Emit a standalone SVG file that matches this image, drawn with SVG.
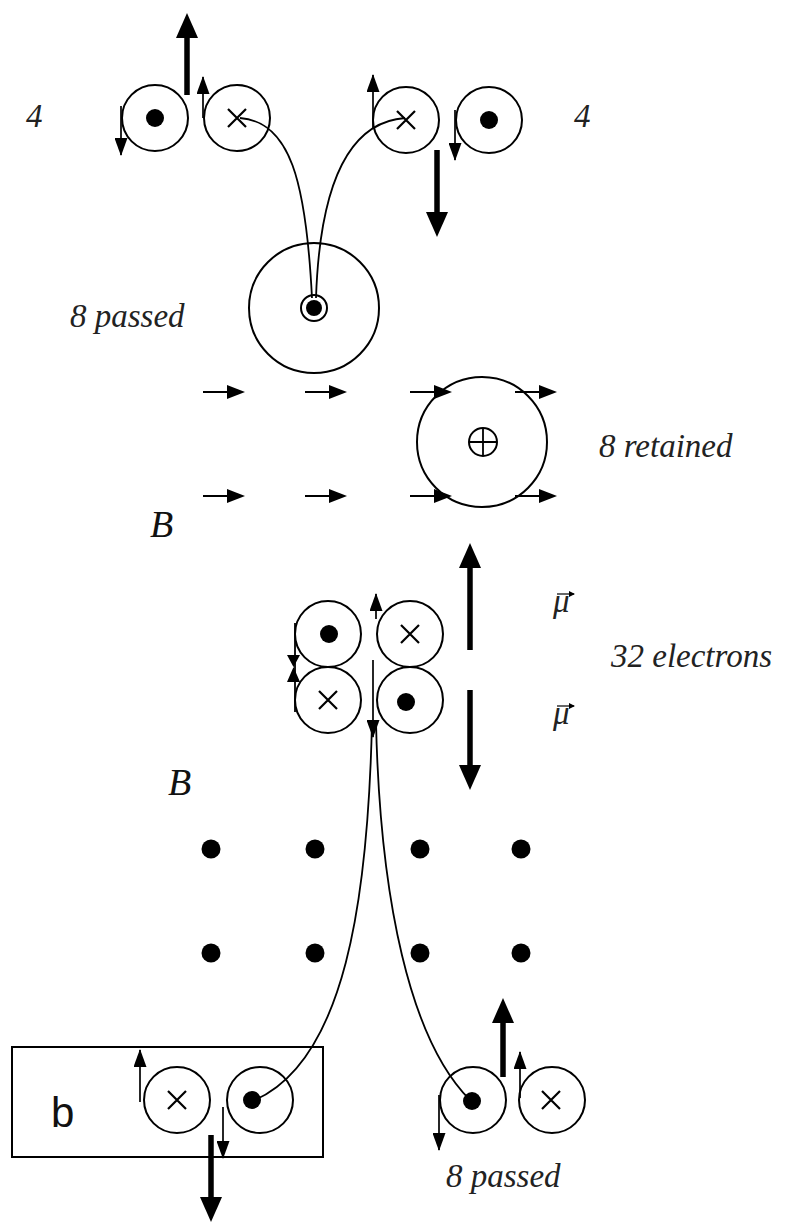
<svg xmlns="http://www.w3.org/2000/svg" width="793" height="1226" viewBox="0 0 793 1226">
<style>
.c{fill:none;stroke:#000;stroke-width:2}
.x{stroke:#000;stroke-width:2.2;fill:none}
.d{fill:#000}
.sa{stroke:#000;stroke-width:1.7;fill:none;marker-end:url(#sm)}
.ba{stroke:#000;stroke-width:5.5;fill:none;marker-end:url(#big)}
.ha{stroke:#000;stroke-width:2;fill:none;marker-end:url(#hm)}
.tr{stroke:#000;stroke-width:1.8;fill:none}
.t{font-family:"Liberation Serif",serif;font-style:italic;font-size:33px;fill:#222}
.B{font-family:"Liberation Serif",serif;font-style:italic;font-size:38px;fill:#111}
</style>
<defs>
<marker id="sm" viewBox="0 0 18 13" refX="17" refY="6.5" markerWidth="18" markerHeight="13" markerUnits="userSpaceOnUse" orient="auto"><path d="M0,0 L18,6.5 L0,13 z" fill="#000"/></marker>
<marker id="big" viewBox="0 0 25 22" refX="12" refY="11" markerWidth="25" markerHeight="22" markerUnits="userSpaceOnUse" orient="auto"><path d="M0,0 L25,11 L0,22 z" fill="#000"/></marker>
<marker id="hm" viewBox="0 0 18 14" refX="9" refY="7" markerWidth="18" markerHeight="14" markerUnits="userSpaceOnUse" orient="auto"><path d="M0,0 L18,7 L0,14 z" fill="#000"/></marker>
</defs>
<rect width="793" height="1226" fill="#fff"/>

<g id="top-left-pair">
<circle class="c" cx="155" cy="118" r="33"/><circle class="d" cx="155" cy="118" r="9"/>
<circle class="c" cx="237" cy="118" r="33"/><path class="x" d="M228,109 L246,127 M246,109 L228,127"/>
<line class="sa" x1="121" y1="106" x2="121" y2="155"/>
<line class="sa" x1="203" y1="118" x2="203" y2="77"/>
<line class="ba" x1="187" y1="95" x2="187" y2="26"/>
</g>
<g id="top-right-pair">
<circle class="c" cx="406" cy="120" r="33"/><path class="x" d="M397,111 L415,129 M415,111 L397,129"/>
<circle class="c" cx="489" cy="120" r="33"/><circle class="d" cx="489" cy="120" r="9"/>
<line class="sa" x1="373" y1="128" x2="373" y2="75"/>
<line class="sa" x1="455" y1="110" x2="455" y2="160"/>
<line class="ba" x1="437" y1="150" x2="437" y2="224"/>
</g>
<g id="passed-atom">
<circle class="c" cx="314" cy="308" r="65"/>
<circle class="c" cx="314" cy="308" r="13"/><circle class="d" cx="314" cy="308" r="8"/>
</g>
<g id="retained-atom">
<circle class="c" cx="482" cy="442" r="65"/>
<circle class="c" cx="483" cy="442" r="14"/><path class="x" d="M469,442 L497,442 M483,428 L483,456" style="stroke-width:1.8"/>
</g>
<g id="field-arrows">
<line class="ha" x1="203" y1="392" x2="236" y2="392"/>
<line class="ha" x1="305" y1="392" x2="338" y2="392"/>
<line class="ha" x1="410" y1="392" x2="443" y2="392"/>
<line class="ha" x1="515" y1="392" x2="548" y2="392"/>
<line class="ha" x1="203" y1="496" x2="236" y2="496"/>
<line class="ha" x1="305" y1="496" x2="338" y2="496"/>
<line class="ha" x1="410" y1="496" x2="443" y2="496"/>
<line class="ha" x1="515" y1="496" x2="548" y2="496"/>
</g>
<g id="electrons-32">
<circle class="c" cx="328" cy="634" r="33"/><circle class="d" cx="329" cy="634" r="9"/>
<circle class="c" cx="410" cy="634" r="33"/><path class="x" d="M401,625 L419,643 M419,625 L401,643"/>
<circle class="c" cx="328" cy="700" r="33"/><path class="x" d="M319,691 L337,709 M337,691 L319,709"/>
<circle class="c" cx="410" cy="700" r="33"/><circle class="d" cx="406" cy="702" r="9"/>
<line class="tr" x1="295" y1="623" x2="295" y2="712"/>
<path class="d" d="M287,655 L300,655 L293.5,667 z M287,682 L300,682 L293.5,667 z"/>
<line class="sa" x1="376" y1="619" x2="376" y2="594"/>
<line class="sa" x1="373" y1="660" x2="373" y2="737"/>
<line class="ba" x1="470" y1="650" x2="470" y2="556"/>
<line class="ba" x1="470" y1="690" x2="470" y2="777"/>
</g>
<g id="field-dots">
<circle class="d" cx="211" cy="849" r="9.5"/><circle class="d" cx="315" cy="849" r="9.5"/><circle class="d" cx="420" cy="849" r="9.5"/><circle class="d" cx="521" cy="849" r="9.5"/>
<circle class="d" cx="211" cy="953" r="9.5"/><circle class="d" cx="315" cy="953" r="9.5"/><circle class="d" cx="420" cy="953" r="9.5"/><circle class="d" cx="521" cy="953" r="9.5"/>
</g>
<g id="box-b">
<rect x="12" y="1047" width="311" height="110" fill="none" stroke="#000" stroke-width="2"/>
<text x="51" y="1127" style="font-family:'Liberation Sans',sans-serif;font-size:42px;fill:#111">b</text>
<circle class="c" cx="177" cy="1100" r="33"/><path class="x" d="M168,1091 L186,1109 M186,1091 L168,1109"/>
<circle class="c" cx="260" cy="1100" r="33"/><circle class="d" cx="252" cy="1100" r="9"/>
<line class="sa" x1="140" y1="1102" x2="140" y2="1050"/>
<line class="sa" x1="223" y1="1107" x2="223" y2="1158"/>
<line class="ba" x1="211" y1="1135" x2="211" y2="1209"/>
</g>
<g id="bottom-right-pair">
<circle class="c" cx="473" cy="1100" r="33"/><circle class="d" cx="472" cy="1101" r="9"/>
<circle class="c" cx="552" cy="1100" r="33"/><path class="x" d="M542,1091 L560,1109 M560,1091 L542,1109"/>
<line class="sa" x1="439" y1="1095" x2="439" y2="1150"/>
<line class="sa" x1="520" y1="1098" x2="520" y2="1052"/>
<line class="ba" x1="503" y1="1077" x2="503" y2="1011"/>
</g>
<g id="connectors">
<path class="tr" d="M240,118 C290,122 306,180 312,298"/>
<path class="tr" d="M405,118 C350,122 320,180 316,298"/>
<path class="tr" d="M372,722 C368,900 345,1060 255,1100"/>
<path class="tr" d="M376,722 C380,900 410,1040 470,1100"/>
</g>
<g id="labels">
<text class="t" x="26" y="127">4</text>
<text class="t" x="574" y="127">4</text>
<text class="t" x="70" y="327">8 passed</text>
<text class="t" x="599" y="457">8 retained</text>
<text class="B" x="150" y="537">B</text>
<text class="B" x="168" y="795">B</text>
<text class="t" x="553" y="612">μ</text>
<line x1="557" y1="594" x2="574" y2="594" stroke="#000" stroke-width="1.2"/><path class="d" d="M569,591 L575,594 L569,597 z"/>
<text class="t" x="553" y="724">μ</text>
<line x1="557" y1="706" x2="574" y2="706" stroke="#000" stroke-width="1.2"/><path class="d" d="M569,703 L575,706 L569,709 z"/>
<text class="t" x="611" y="667">32 electrons</text>
<text class="t" x="446" y="1187">8 passed</text>
</g>
</svg>
